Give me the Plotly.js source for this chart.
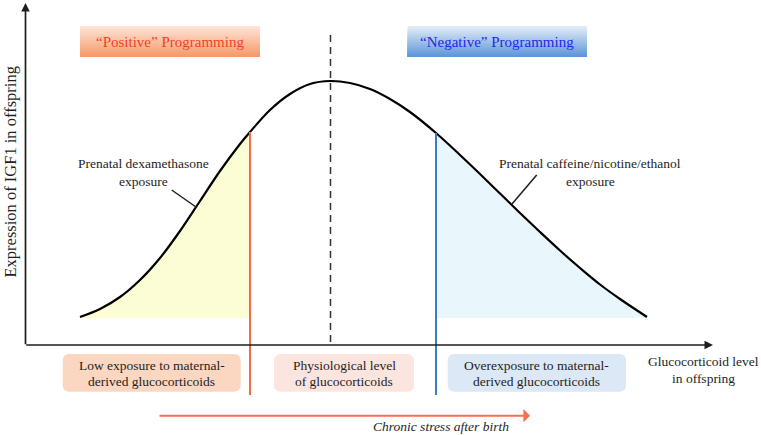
<!DOCTYPE html>
<html>
<head>
<meta charset="utf-8">
<script src="https://cdn.plot.ly/plotly-3.0.1.min.js"></script>
<style>
  body { margin: 0; background: #fff; }
  #chart { width: 761px; height: 435px; }
</style>
</head>
<body>
<div id="chart"></div>
<script>
// Curve (x = glucocorticoid level, y = IGF1 expression)
const curveX = [55, 75, 95, 115, 135, 155, 175, 195, 215, 225, 245, 265, 285, 305,
                325, 345, 365, 385, 411, 435, 455, 475, 495, 515, 535, 555, 575, 595, 622];
const curveY = [28, 36, 48, 65, 87, 114, 144, 174, 201, 213, 235, 251, 261, 264,
                262, 256, 246, 233, 212, 190, 171, 151.5, 132, 113, 94.5, 77, 60.5, 46, 28];

// Key levels on the x axis
const lowCut = 225;      // red line
const peakLevel = 305.5; // dashed line
const highCut = 411;     // blue line
const fillBase = 27;

// Text
const topLabels = ["\u201cPositive\u201d Programming", "\u201cNegative\u201d Programming"];
const bottomLabels = [
  ["Low exposure to maternal-", "derived glucocorticoids"],
  ["Physiological level", "of glucocorticoids"],
  ["Overexposure to maternal-", "derived glucocorticoids"]
];
const curveNotes = [
  ["Prenatal dexamethasone", "exposure"],
  ["Prenatal caffeine/nicotine/ethanol", "exposure"]
];
const yTitle = "Expression of IGF1 in offspring";
const xTitle = ["Glucocorticoid level", "in offspring"];
const stressLabel = "Chronic stress after birth";

const serif = "Liberation Serif, Times New Roman, serif";
const ink = "#1e1e1e";

// pick the part of the curve between two levels
function segment(x0, x1) {
  const xs = [], ys = [];
  for (let i = 0; i < curveX.length; i++) {
    if (curveX[i] >= x0 && curveX[i] <= x1) { xs.push(curveX[i]); ys.push(curveY[i]); }
  }
  return { xs, ys };
}

const left = segment(0, lowCut);
const right = segment(highCut, 1000);

const traces = [
  { x: [left.xs[0], lowCut], y: [fillBase, fillBase], mode: 'lines', line: { width: 0 }, hoverinfo: 'skip' },
  { x: left.xs, y: left.ys, mode: 'lines', fill: 'tonexty', fillcolor: '#fdfdd5',
    line: { width: 0, shape: 'spline' }, hoverinfo: 'skip' },
  { x: [highCut, right.xs[right.xs.length - 1]], y: [fillBase, fillBase], mode: 'lines', line: { width: 0 }, hoverinfo: 'skip' },
  { x: right.xs, y: right.ys, mode: 'lines', fill: 'tonexty', fillcolor: '#e9f7fd',
    line: { width: 0, shape: 'spline' }, hoverinfo: 'skip' },
  { x: curveX, y: curveY, mode: 'lines', line: { color: '#000', width: 2.2, shape: 'spline' }, hoverinfo: 'skip' }
];

const shapes = [];
const annotations = [];

// gradient boxes: stacked rects, each one reaching the bottom so there are no seams
function gradientBox(x0, x1, y0, y1, top, bottom, n) {
  const a = top.match(/\w\w/g).map(h => parseInt(h, 16));
  const b = bottom.match(/\w\w/g).map(h => parseInt(h, 16));
  for (let i = 0; i < n; i++) {
    const t = i / (n - 1);
    const c = a.map((v, k) => Math.round(v + (b[k] - v) * t));
    const ya = y1 - (y1 - y0) * i / n;
    shapes.push({ type: 'rect', xref: 'x', yref: 'y', x0, x1, y0, y1: ya,
      fillcolor: `rgb(${c[0]},${c[1]},${c[2]})`, line: { width: 0 }, layer: 'below' });
  }
}

function roundBox(x0, x1, y0, y1, r, color) {
  const p = `M ${x0 + r} ${y1} L ${x1 - r} ${y1} Q ${x1} ${y1} ${x1} ${y1 - r} ` +
    `L ${x1} ${y0 + r} Q ${x1} ${y0} ${x1 - r} ${y0} L ${x0 + r} ${y0} ` +
    `Q ${x0} ${y0} ${x0} ${y0 + r} L ${x0} ${y1 - r} Q ${x0} ${y1} ${x0 + r} ${y1} Z`;
  shapes.push({ type: 'path', xref: 'x', yref: 'y', path: p, fillcolor: color, line: { width: 0 }, layer: 'below' });
}

function text(x, y, s, size, color, extra) {
  annotations.push(Object.assign({ x, y, xref: 'x', yref: 'y', text: s, showarrow: false,
    font: { family: serif, size, color }, xanchor: 'center', yanchor: 'middle' }, extra || {}));
}

// top programming boxes
gradientBox(55, 235, 288, 319, 'fde4d5', 'f59a68', 24);
gradientBox(382.7, 562, 288, 319, 'e2edf8', '5d95d8', 24);
text(145, 303.5, topLabels[0], 15, '#f43f27');
text(472.3, 303.5, topLabels[1], 15, '#2626e8');

// bottom boxes
const boxColors = ['#fbd7c1', '#fde5df', '#dce8f5'];
const boxX = [[37.7, 215.7], [249, 389], [422.7, 601]];
bottomLabels.forEach((lines, i) => {
  roundBox(boxX[i][0], boxX[i][1], -46.7, -9, 7, boxColors[i]);
  const cx = (boxX[i][0] + boxX[i][1]) / 2;
  text(cx, -20.7, lines[0], 13.5, ink);
  text(cx, -36.7, lines[1], 13.5, ink);
});

// vertical markers
shapes.push({ type: 'line', x0: lowCut, x1: lowCut, y0: 213, y1: -50, line: { color: '#f26a4a', width: 2 } });
shapes.push({ type: 'line', x0: highCut, x1: highCut, y0: 212, y1: -50, line: { color: '#3b7dc4', width: 2 } });
shapes.push({ type: 'line', x0: peakLevel, x1: peakLevel, y0: 310, y1: 0, line: { color: '#333', width: 1.5, dash: '7px,5px' } });

// leader lines for the exposure notes
shapes.push({ type: 'line', x0: 146.7, y0: 155, x1: 171.7, y1: 137.5, line: { color: ink, width: 1.5 } });
shapes.push({ type: 'line', x0: 511.7, y0: 170, x1: 487, y1: 141, line: { color: ink, width: 1.5 } });
text(118.7, 182, curveNotes[0][0], 13.5, ink);
text(118.7, 164, curveNotes[0][1], 13.5, ink);
text(565, 182, curveNotes[1][0], 13.5, ink);
text(565, 164, curveNotes[1][1], 13.5, ink);

// axes drawn as arrows
function arrow(x, y, ax, ay, color, width, head, size) {
  annotations.push({ x, y, ax, ay, xref: 'x', yref: 'y', axref: 'x', ayref: 'y', text: '',
    showarrow: true, arrowhead: head, arrowsize: size, arrowwidth: width, arrowcolor: color,
    standoff: 0, startstandoff: 0 });
}
arrow(0.5, 342, 0.5, -0.8, ink, 1.7, 2, 1);
arrow(688, 0, -0.3, 0, ink, 1.7, 2, 1);
arrow(505, -70.7, 133, -70.7, '#f5704f', 2, 1, 1.1);

text(-15.5, 173, yTitle, 16.5, ink, { textangle: -90 });
text(678, -16.7, xTitle[0], 13.5, ink);
text(678, -33, xTitle[1], 13.5, ink);
text(416, -81.7, '<i>' + stressLabel + '</i>', 13.5, ink);

const layout = {
  width: 761, height: 435,
  margin: { l: 0, r: 0, t: 0, b: 0 },
  paper_bgcolor: '#fff', plot_bgcolor: '#fff',
  showlegend: false,
  xaxis: { range: [-25, 736], visible: false, fixedrange: true },
  yaxis: { range: [-90, 345], visible: false, fixedrange: true },
  shapes, annotations
};

Plotly.newPlot('chart', traces, layout, { displayModeBar: false, staticPlot: true });
</script>
</body>
</html>
